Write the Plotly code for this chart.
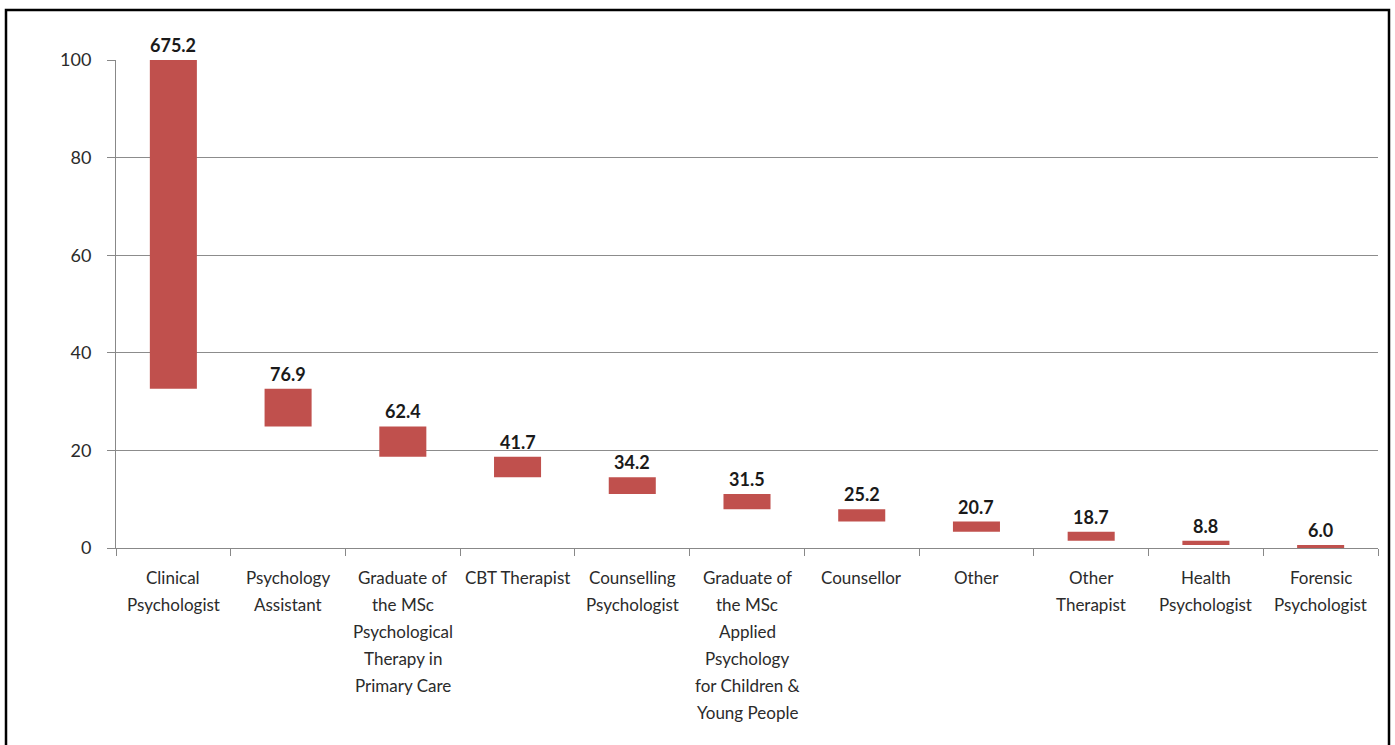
import plotly.graph_objects as go

categories = ["Clinical Psychologist", "Psychology Assistant",
              "Graduate of the MSc Psychological Therapy in Primary Care",
              "CBT Therapist", "Counselling Psychologist",
              "Graduate of the MSc Applied Psychology for Children & Young People",
              "Counsellor", "Other", "Other Therapist", "Health Psychologist",
              "Forensic Psychologist"]
tick_lines = [["Clinical", "Psychologist"], ["Psychology", "Assistant"],
              ["Graduate of", "the MSc", "Psychological", "Therapy in", "Primary Care"],
              ["CBT Therapist"], ["Counselling", "Psychologist"],
              ["Graduate of", "the MSc", "Applied", "Psychology", "for Children &", "Young People"],
              ["Counsellor"], ["Other"], ["Other", "Therapist"], ["Health", "Psychologist"],
              ["Forensic", "Psychologist"]]
values = [675.2, 76.9, 62.4, 41.7, 34.2, 31.5, 25.2, 20.7, 18.7, 8.8, 6.0]
scale = 10.0  # axis shows value / 10

total = sum(values) / scale
tops, bases = [], []
cur = total
for v in values:
    tops.append(cur)
    cur -= v / scale
    bases.append(cur)
heights = [t - b for t, b in zip(tops, bases)]

FONT = "Lato, Open Sans, sans-serif"
fig = go.Figure(go.Bar(x=categories, y=heights, base=bases, width=0.41,
                       marker=dict(color="#C0504D", line=dict(width=0)),
                       hoverinfo="skip"))

ann = []
for c, t, v in zip(categories, tops, values):
    ann.append(dict(x=c, y=min(t, 100), xref="x", yref="y", text=f"<b>{v:.1f}</b>",
                    showarrow=False, yanchor="bottom", yshift=2,
                    font=dict(family=FONT, size=18, color="#1a1a1a")))
for c, lines in zip(categories, tick_lines):
    for i, ln in enumerate(lines):
        ann.append(dict(x=c, y=0, xref="x", yref="paper", text=ln, showarrow=False,
                        yanchor="middle", yshift=-29 - 27 * i,
                        font=dict(family=FONT, size=17, color="#2b2b2b")))

fig.update_layout(
    width=1395, height=745, margin=dict(l=116, r=17, t=60, b=197),
    paper_bgcolor="white", plot_bgcolor="white", showlegend=False,
    annotations=ann,
    xaxis=dict(showticklabels=False, tickson="boundaries", ticks="outside", ticklen=7,
               tickcolor="#888888", showline=True, linecolor="#888888", linewidth=1,
               showgrid=False),
    yaxis=dict(range=[0, 100], tickvals=[0, 20, 40, 60, 80, 100], ticks="outside",
               ticklen=8, tickcolor="#888888", showline=True, linecolor="#888888",
               showgrid=True, gridcolor="#8c8c8c", gridwidth=1, zeroline=False,
               tickfont=dict(family=FONT, size=18, color="#2b2b2b"), ticklabelstandoff=12),
    shapes=[dict(type="rect", xref="paper", yref="paper",
                 x0=(6 - 116) / 1262, x1=(1389 - 116) / 1262,
                 y0=(548 - 760) / 488, y1=(548 - 10) / 488,
                 line=dict(color="black", width=2.5), fillcolor="rgba(0,0,0,0)",
                 layer="below")],
)
fig.write_html("out.html", config={"displayModeBar": False},
               post_script="document.body.style.margin='0';document.body.style.overflow='hidden';")
